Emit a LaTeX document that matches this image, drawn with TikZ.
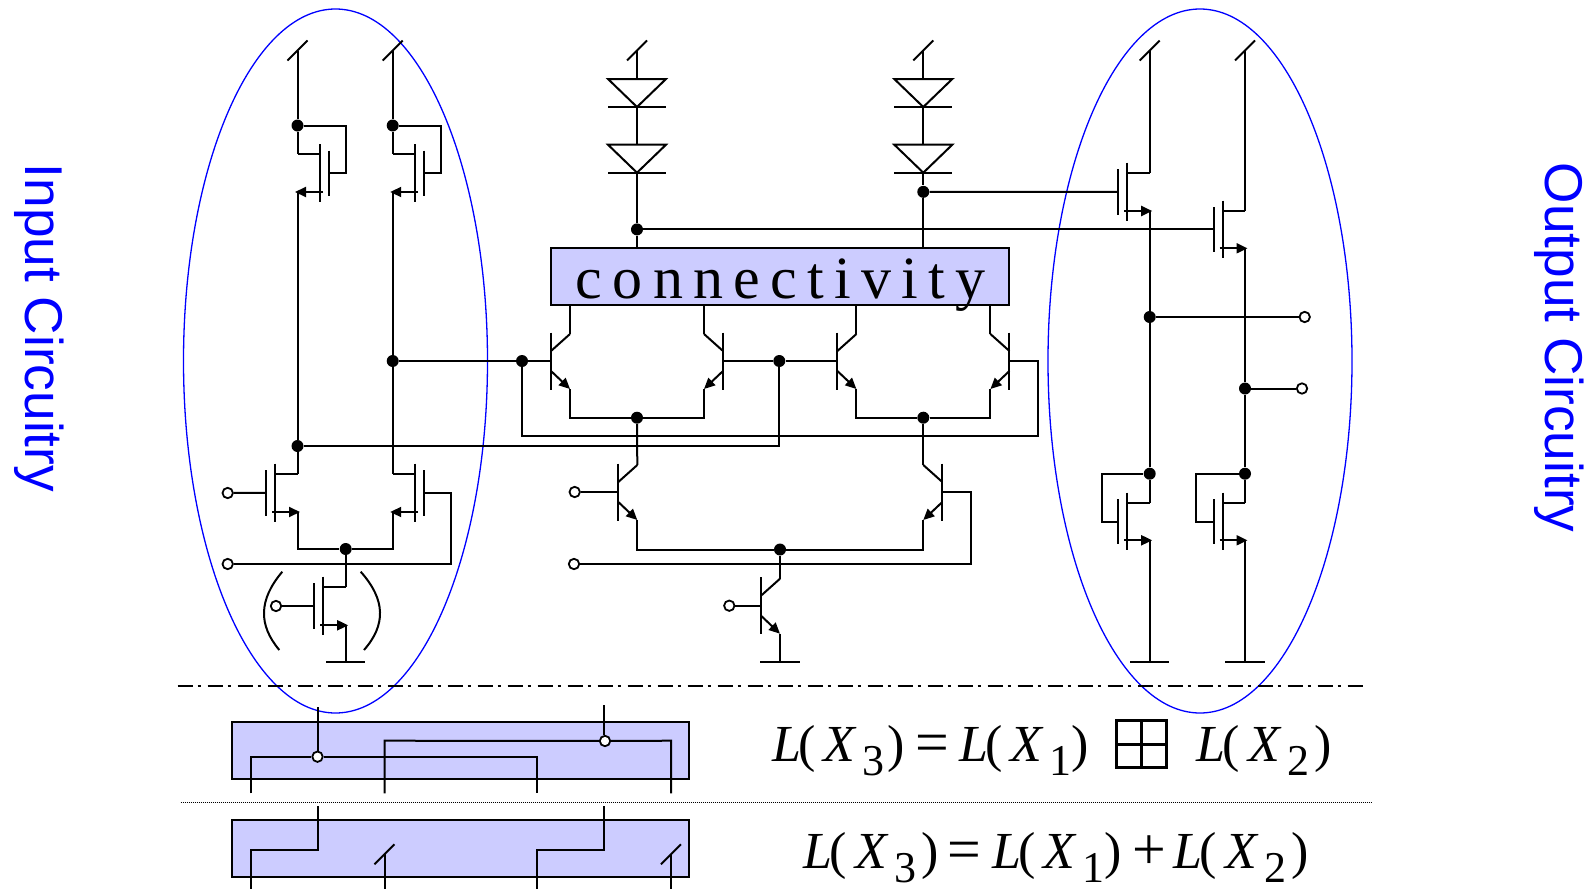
\documentclass[tikz,border=0pt]{standalone}
\usepackage{fontspec}
\setmainfont{Liberation Serif}
\newfontfamily\arialfam{Liberation Sans}
\usetikzlibrary{arrows.meta}
\definecolor{boxfill}{RGB}{204,204,255}
\tikzset{
  wire/.style={line width=1pt,line join=miter},
  jdot/.style={circle,fill=black,inner sep=0pt,minimum size=6pt},
  opin/.style={circle,draw=black,fill=white,line width=0.9pt,inner sep=0pt,minimum size=5.2pt},
  blueloop/.style={draw=blue,line width=0.65pt},
  bluebox/.style={rectangle,draw=black,fill=boxfill,line width=1pt,inner sep=0pt},
  sidelabel/.style={text=blue,rotate=-90,anchor=base west,inner sep=0pt,font=\arialfam\fontsize{26.6}{30}\selectfont},
  eqn/.style={anchor=base west,inner sep=0pt,font=\fontsize{26}{30}\selectfont},
  tiphead/.style={-{Triangle[length=5.5pt,width=5pt]}}
}
\newcommand{\mosdev}[5]{% name, column x, side, drain y, source y
  \pgfmathsetmacro\mosch{#2+(#3)*22.3}
  \pgfmathsetmacro\mosgt{#2+(#3)*31.5}
  \pgfmathsetmacro\mosst{#2+(#3)*25.5}
  \pgfmathsetmacro\mostip{#2-(#3)*2.5}
  \pgfmathsetmacro\mosym{(#4+#5)/2}
  \coordinate (#1-d) at (#2,#4);
  \coordinate (#1-s) at (#2,#5);
  \coordinate (#1-g) at (\mosgt,\mosym);
  \draw[wire] (#1-d) -- (\mosch,#4);
  \draw[wire] (\mosch,#4-10) -- (\mosch,#5+10);
  \draw[wire] (\mosgt,#4-3.5) -- (\mosgt,#5+3.5);
  \draw[wire,tiphead] (\mosst,#5) -- (\mostip,#5);
}
\newcommand{\bjtdev}[4]{% name, column x, side, base y
  \pgfmathsetmacro\bjp{#2+(#3)*19}
  \coordinate (#1-b) at (\bjp,#4);
  \coordinate (#1-c) at (#2,#4-27);
  \coordinate (#1-e) at (#2,#4+28);
  \draw[wire] (\bjp,#4-28.5) -- (\bjp,#4+28.5);
  \draw[wire] (\bjp,#4-10) -- (#1-c);
  \draw[wire,tiphead] (\bjp,#4+10) -- (#1-e);
}
\newcommand{\diodedev}[3]{% name, x, top y
  \coordinate (#1-a) at (#2,#3);
  \coordinate (#1-k) at (#2,#3+28);
  \draw[wire] (#2-29,#3) -- (#2+29,#3) -- (#2,#3+28) -- cycle;
  \draw[wire] (#2-29,#3+28) -- (#2+29,#3+28);
}
\newcommand{\supplytick}[3]{% name, x, y
  \coordinate (#1) at (#2,#3);
  \draw[wire] (#2-10,#3+10) -- (#2+10,#3-10);
}
\newcommand{\gndbar}[3]{% name, x, y
  \coordinate (#1) at (#2,#3);
  \draw[wire] (#2-19.7,#3) -- (#2+19.7,#3);
}
\newcommand{\eqterm}[2]{\textit{L}\kern-1.5pt(\kern4.2pt\textit{X}\kern2.8pt\raisebox{-7pt}{\fontsize{22}{24}\selectfont #1}\kern#2pt)}
\newcommand{\bigeq}{\raisebox{-0.6pt}{\scalebox{1.15}{=}}}
\newcommand{\bigplus}{\raisebox{-0.8pt}{\scalebox{1.15}{+}}}
\begin{document}
\begin{tikzpicture}[x=0.5pt,y=-0.5pt]
\useasboundingbox (0,0) rectangle (1592,889);
\fill[white] (0,0) rectangle (1592,889);

% side labels
\node[sidelabel] (lblin) at (25.5,163.5) {Input Circuitry};
\node[sidelabel] (lblout) at (1545.5,162.5) {Output Circuitry};

% blue loops
\draw[blueloop] (335.5,361) ellipse [x radius=76pt,y radius=176pt];
\draw[blueloop] (1200,361) ellipse [x radius=76pt,y radius=176pt];

% connectivity block
\node[bluebox,minimum width=229pt,text height=24.9pt,text depth=3.45pt,inner sep=0pt,font=\fontsize{30}{34}\selectfont\addfontfeatures{LetterSpace=17.2}] (conn) at (780,276.6) {\kern0.8pt connectivity};

% junctions
\node[jdot] (ja) at (297.5,125.5) {};
\node[jdot] (jb) at (392.7,125.5) {};
\node[jdot] (jc) at (297.5,446) {};
\node[jdot] (jd) at (392.7,361) {};
\node[jdot] (je) at (345.7,549) {};
\node[jdot] (jf) at (522,361) {};
\node[jdot] (jg) at (779.3,361) {};
\node[jdot] (jh) at (637,417.7) {};
\node[jdot] (ji) at (923.3,417.7) {};
\node[jdot] (jj) at (780,549.5) {};
\node[jdot] (jk) at (637,229.4) {};
\node[jdot] (jl) at (923.3,191.85) {};
\node[jdot] (jm) at (1149.7,317) {};
\node[jdot] (jn) at (1245,388.5) {};
\node[jdot] (jo) at (1149.7,473.7) {};
\node[jdot] (jp) at (1245,473.7) {};

% input pins
\node[opin] (ina) at (227.7,493) {};
\node[opin] (inb) at (227.7,564) {};
\node[opin] (inc) at (276,606) {};
\node[opin] (ind) at (574.7,492) {};
\node[opin] (ine) at (574,564) {};
\node[opin] (inf) at (729.3,605.7) {};
\node[opin] (outa) at (1304.7,317) {};
\node[opin] (outb) at (1302,388.5) {};

% left input circuit
\supplytick{va}{297.5}{50.5}
\supplytick{vb}{392.7}{50.5}
\mosdev{pa}{297.5}{1}{154}{192}
\mosdev{pb}{392.7}{1}{154}{192}
\mosdev{na}{297.5}{-1}{473.7}{512}
\mosdev{nb}{392.7}{1}{473.7}{512}
\mosdev{nc}{345.7}{-1}{586.7}{625.3}
\gndbar{gc}{345.7}{662.3}
\coordinate (pax) at (345.9,125.5);
\coordinate (pbx) at (441.1,125.5);
\coordinate (nbx) at (450.7,564);
\draw[wire] (va) -- (ja) -- (pa-d);
\draw[wire] (vb) -- (jb) -- (pb-d);
\draw[wire] (ja) -- (pax) |- (pa-g);
\draw[wire] (jb) -- (pbx) |- (pb-g);
\draw[wire] (pa-s) -- (jc) -- (na-d);
\draw[wire] (pb-s) -- (jd) -- (nb-d);
\draw[wire] (ina) -- (na-g);
\draw[wire] (nb-g) -| (nbx) -- (inb);
\draw[wire] (na-s) |- (je) -| (nb-s);
\draw[wire] (je) -- (nc-d);
\draw[wire] (inc) -- (nc-g);
\draw[wire] (nc-s) -- (gc);
\draw[wire] (282.3,571.7) .. controls (258.4,600) and (258.4,625) .. (279.3,650);
\draw[wire] (360.7,571.7) .. controls (385.9,600) and (385.9,625) .. (364,650);

% diodes
\supplytick{vm}{637}{50.5}
\supplytick{vn}{923.3}{50.5}
\diodedev{da}{637}{79}
\diodedev{db}{637}{144.7}
\diodedev{dc}{923.3}{79}
\diodedev{dd}{923.3}{144.7}
\draw[wire] (vm) -- (da-a);
\draw[wire] (da-k) -- (db-a);
\draw[wire] (db-k) -- (jk) -- (jk |- conn.north);
\draw[wire] (vn) -- (dc-a);
\draw[wire] (dc-k) -- (dd-a);
\draw[wire] (dd-k) -- (jl) -- (jl |- conn.north);

% bipolar pairs
\bjtdev{qa}{570}{-1}{361}
\bjtdev{qb}{704}{1}{361}
\bjtdev{qc}{856.4}{-1}{361}
\bjtdev{qd}{990.4}{1}{361}
\bjtdev{qe}{637.3}{-1}{492}
\bjtdev{qf}{923.3}{1}{492}
\bjtdev{qg}{780}{-1}{605.7}
\gndbar{gg}{780}{662}
\draw[wire] (qa-c) -- (qa-c |- conn.south);
\draw[wire] (qb-c) -- (qb-c |- conn.south);
\draw[wire] (qc-c) -- (qc-c |- conn.south);
\draw[wire] (qd-c) -- (qd-c |- conn.south);
\draw[wire] (qa-e) |- (jh) -| (qb-e);
\draw[wire] (qc-e) |- (ji) -| (qd-e);
\draw[wire] (jh) -- (qe-c);
\draw[wire] (ji) -- (qf-c);
\draw[wire] (qe-e) |- (jj) -| (qf-e);
\draw[wire] (jj) -- (qg-c);
\draw[wire] (qg-e) -- (gg);
\draw[wire] (jd) -- (jf) -- (qa-b);
\draw[wire] (qb-b) -- (jg) -- (qc-b);
\coordinate (loopr) at (1037.5,436);
\coordinate (loopl) at (522,436);
\draw[wire] (qd-b) -| (loopr) -- (loopl) -- (jf);
\coordinate (railb) at (779.3,446);
\draw[wire] (jc) -- (railb) -- (jg);
\draw[wire] (ind) -- (qe-b);
\coordinate (qfx) at (971,564);
\draw[wire] (qf-b) -| (qfx) -- (ine);
\draw[wire] (inf) -- (qg-b);

% output circuit
\supplytick{vc}{1149.7}{50.5}
\supplytick{vd}{1245}{50.5}
\mosdev{ma}{1149.7}{-1}{172.7}{211}
\mosdev{mb}{1245}{-1}{210.5}{248.3}
\mosdev{mc}{1149.7}{-1}{502.7}{540.3}
\mosdev{md}{1245}{-1}{502.7}{540.3}
\gndbar{ge}{1149.7}{662}
\gndbar{gf}{1245}{662}
\draw[wire] (vc) -- (ma-d);
\draw[wire] (vd) -- (mb-d);
\draw[wire] (jl) -- (ma-g);
\draw[wire] (jk) -- (mb-g);
\draw[wire] (ma-s) -- (jm) -- (jo) -- (mc-d);
\draw[wire] (mb-s) -- (jn) -- (jp) -- (md-d);
\draw[wire] (jm) -- (outa);
\draw[wire] (jn) -- (outb);
\coordinate (mcx) at (1101.7,473.7);
\coordinate (mdx) at (1196.3,473.7);
\draw[wire] (jo) -- (mcx) |- (mc-g);
\draw[wire] (jp) -- (mdx) |- (md-g);
\draw[wire] (mc-s) -- (ge);
\draw[wire] (md-s) -- (gf);

% separators
\coordinate (sepal) at (177.5,685.7);
\coordinate (separ) at (1363.7,685.7);
\coordinate (sepbl) at (180.5,802.3);
\coordinate (sepbr) at (1371,802.3);
\draw[line width=1pt,dash pattern=on 7.5pt off 2.5pt on 1.5pt off 3.5pt] (sepal) -- (separ);
\draw[line width=0.5pt,dash pattern=on 0.5pt off 0.5pt] (sepbl) -- (sepbr);

% lower blocks
\node[bluebox,minimum width=228.6pt,minimum height=28.3pt] (boxa) at (460.5,750.3) {};
\node[bluebox,minimum width=228.6pt,minimum height=28.3pt] (boxb) at (460.5,848.5) {};

% upper block wiring
\node[opin] (xa) at (317.5,756.7) {};
\node[opin] (xb) at (605,741) {};
\coordinate (xat) at (318,707.3);
\coordinate (xbt) at (603.5,705.3);
\coordinate (wal) at (250.6,756.7);
\coordinate (war) at (537.4,756.7);
\coordinate (wbl) at (384.5,740.7);
\coordinate (wbr) at (671,740.7);
\coordinate (ea) at (250.6,793.3);
\coordinate (eb) at (384.5,793.3);
\coordinate (ec) at (537.4,793.3);
\coordinate (ed) at (671,793.3);
\draw[wire] (xat) -- (xat |- xa.north);
\draw[wire] (xbt) -- (xbt |- xb.north);
\draw[wire] (ea) -- (wal) -- (xa);
\draw[wire] (xa) -- (war) -- (ec);
\draw[wire] (eb) -- (wbl) -- (xb);
\draw[wire] (xb) -- (wbr) -- (ed);

% lower block wiring
\coordinate (yat) at (318,806);
\coordinate (yam) at (318,850);
\coordinate (yal) at (250.6,850);
\coordinate (yab) at (250.6,889);
\coordinate (ybt) at (603.5,806);
\coordinate (ybm) at (603.5,850);
\coordinate (ybl) at (536.7,850);
\coordinate (ybb) at (536.7,889);
\supplytick{tka}{384.5}{854.3}
\supplytick{tkb}{671}{854.3}
\coordinate (tkab) at (384.5,889);
\coordinate (tkbb) at (671,889);
\draw[wire] (yat) -- (yam) -- (yal) -- (yab);
\draw[wire] (ybt) -- (ybm) -- (ybl) -- (ybb);
\draw[wire] (tka) -- (tkab);
\draw[wire] (tkb) -- (tkbb);

% equations
\node[eqn] (eqa) at (771.8,761) {\eqterm{3}{1.5}\kern5pt\bigeq\kern5.15pt\eqterm{1}{0}};
\node[eqn] (eqb) at (1196.3,761) {\eqterm{2}{2.5}};
\draw[line width=1.3pt] (1116.7,720.7) rectangle (1166.5,767.7);
\draw[line width=1.3pt] (1141.6,720.7) -- (1141.6,767.7);
\draw[line width=1.3pt] (1116.7,744.2) -- (1166.5,744.2);
\node[eqn] (eqc) at (803.3,868.3) {\eqterm{3}{2.5}\kern4.5pt\bigeq\kern5.45pt\eqterm{1}{0}\kern5pt\bigplus\kern3.7pt\eqterm{2}{2.5}};
\end{tikzpicture}
\end{document}
